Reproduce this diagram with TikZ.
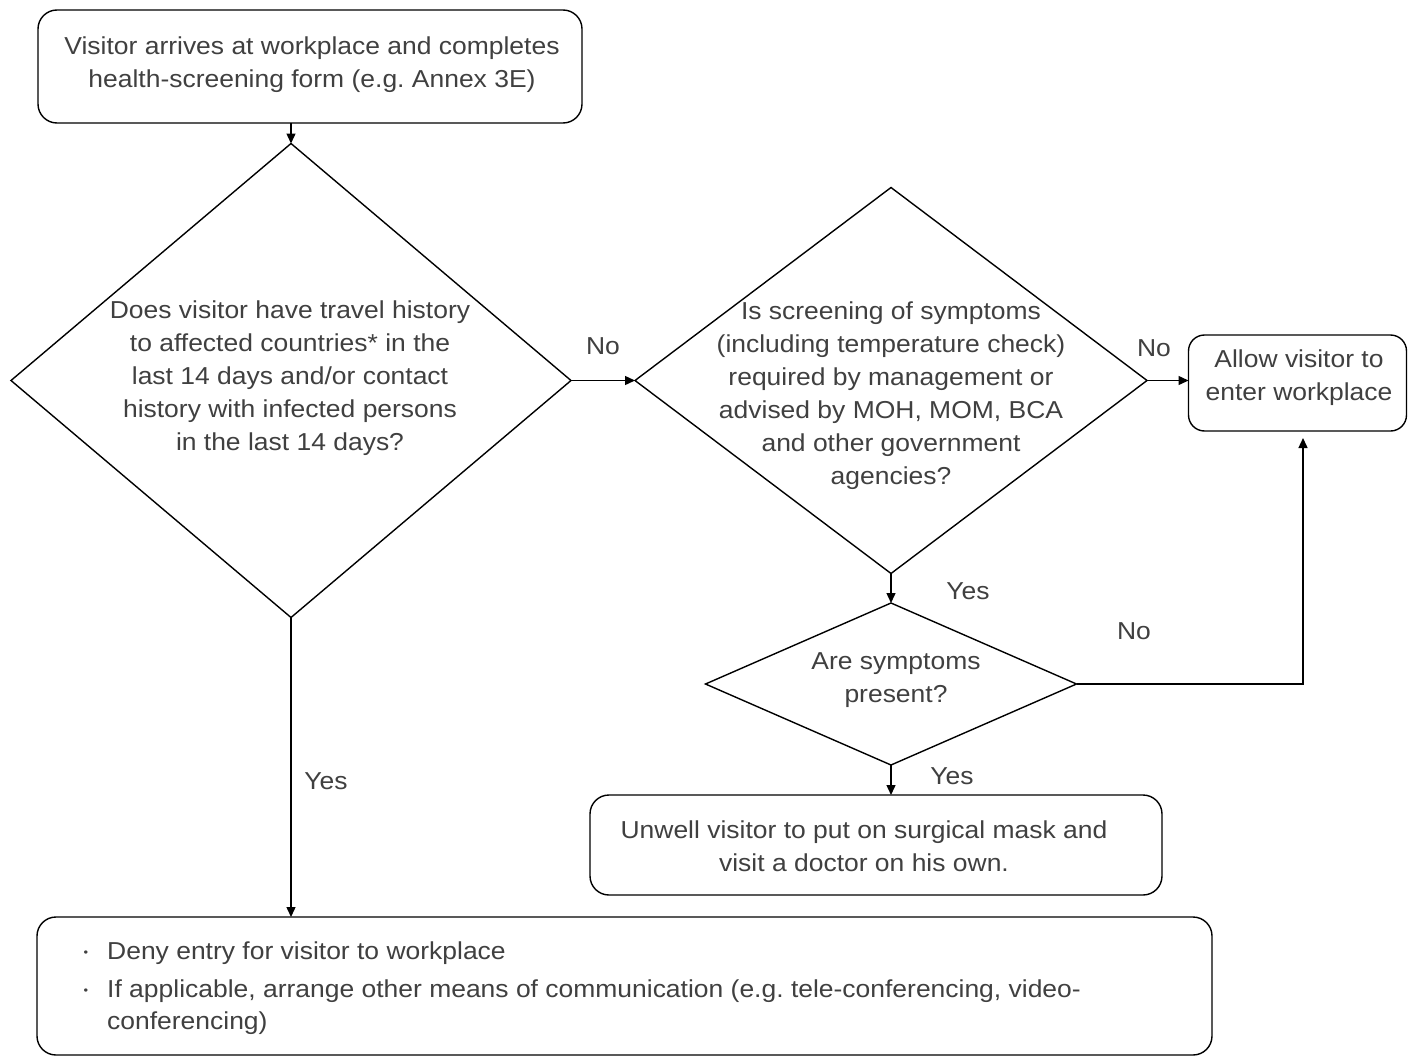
\documentclass[tikz,border=0pt]{standalone}
\usepackage{fontspec}
\setmainfont[FakeStretch=1.08]{Liberation Sans}
\usetikzlibrary{shapes.geometric,arrows.meta}
\definecolor{txtgray}{HTML}{404040}
\frenchspacing
\begin{document}
\begin{tikzpicture}[x=1pt,y=-1pt,
  box/.style={draw=black,line width=1.4pt,rounded corners=19pt,minimum width=#1,inner sep=0pt,outer sep=0pt},
  dia/.style={draw=black,line width=1.4pt,diamond,inner sep=0pt,outer sep=0pt},
  txt/.style={text=txtgray,font=\fontsize{24.5}{33}\selectfont,align=center,inner sep=0pt},
  lbl/.style={text=txtgray,font=\fontsize{24.5}{33}\selectfont,inner sep=0pt},
  arr/.style={draw=black,line width=1.4pt,-{Triangle[length=10pt,width=9pt]}},
  ln/.style={draw=black,line width=1.4pt}]
\useasboundingbox (0,0) rectangle (1408,1060);
\fill[white] (0,0) rectangle (1408,1060);

% shapes
\node[box=544pt,minimum height=113pt] (start) at (310,66.5) {};
\node[txt] (starttxt) at (312,65) {Visitor arrives at workplace and completes\\health-screening form (e.g. Annex 3E)};

\node[dia,minimum width=560pt,minimum height=474pt] (d1) at (291,380.5) {};
\node[txt] (d1txt) at (290,378) {Does visitor have travel history\\to affected countries* in the\\last 14 days and/or contact\\history with infected persons\\in the last 14 days?};

\node[dia,minimum width=512pt,minimum height=386pt] (d2) at (891,380.5) {};
\node[txt] (d2txt) at (891,396) {Is screening of symptoms\\(including temperature check)\\required by management or\\advised by MOH, MOM, BCA\\and other government\\agencies?};

\node[box=218pt,minimum height=96pt,rounded corners=16pt] (allow) at (1297.5,383) {};
\node[txt] (allowtxt) at (1299,378) {Allow visitor to\\enter workplace};

\node[dia,minimum width=371pt,minimum height=162pt] (d3) at (891,684) {};
\node[txt] (d3txt) at (896,680) {Are symptoms\\present?};

\node[box=572pt,minimum height=100pt] (unwell) at (876,845) {};
\node[txt] (unwelltxt) at (864,846) {Unwell visitor to put on surgical mask and\\visit a doctor on his own.};

\node[box=1175pt,minimum height=138pt] (deny) at (624.5,986) {};
\node[lbl] (bul1) at (86,954) {\fontsize{12}{12}\selectfont •};
\node[lbl,anchor=west] (deny1) at (107,953) {Deny entry for visitor to workplace};
\node[lbl] (bul2) at (86,992) {\fontsize{12}{12}\selectfont •};
\node[lbl,anchor=west] (deny2) at (107,991) {If applicable, arrange other means of communication (e.g. tele-conferencing, video-};
\node[lbl,anchor=west] (deny3) at (107,1023) {conferencing)};

% connectors
\draw[arr] (d1.north |- start.south) -- (d1.north);
\draw[arr] (d1.east) -- (d2.west);
\draw[arr] (d2.east) -- (d2.east -| allow.west);
\draw[arr] (d2.south) -- (d3.north);
\coordinate (cornerNo) at (1303,684);
\draw[arr,shorten >=7pt] (d3.east) -- (cornerNo) -- (cornerNo |- allow.south);
\draw[arr] (d3.south) -- (d3.south |- unwell.north);
\draw[arr] (d1.south) -- (d1.south |- deny.north);

% labels
\node[lbl] (lno1) at (603,346) {No};
\node[lbl] (lno2) at (1154,348) {No};
\node[lbl] (lyes1) at (968,591) {Yes};
\node[lbl] (lno3) at (1134,631) {No};
\node[lbl] (lyes2) at (326,781) {Yes};
\node[lbl] (lyes3) at (952,776) {Yes};
\end{tikzpicture}
\end{document}
